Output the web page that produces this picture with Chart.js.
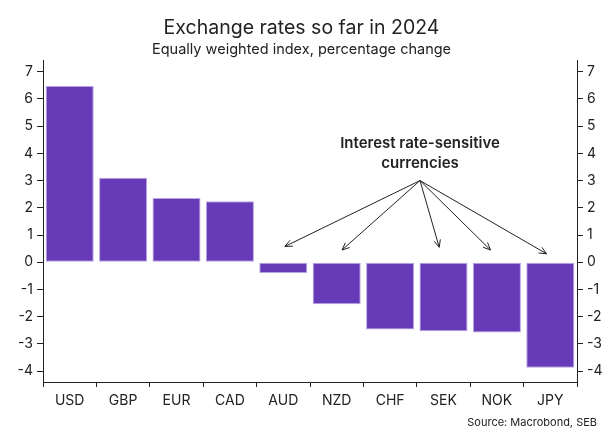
<!DOCTYPE html>
<html>
<head>
<meta charset="utf-8">
<script src="https://cdn.jsdelivr.net/npm/chart.js@4/dist/chart.umd.min.js"></script>
<style>
  html, body { margin: 0; padding: 0; background: #fff; }
  #fx { display: block; }
</style>
</head>
<body>
<canvas id="fx" width="603" height="430"></canvas>
<script>
  // currencies and their change so far this year, %
  const currencies = ['USD', 'GBP', 'EUR', 'CAD', 'AUD', 'NZD', 'CHF', 'SEK', 'NOK', 'JPY'];
  const changePct = [6.47, 3.10, 2.36, 2.24, -0.40, -1.54, -2.47, -2.54, -2.58, -3.88];
  const yTicks = [7, 6, 5, 4, 3, 2, 1, 0, -1, -2, -3, -4];

  // callout: label lines, arrow origin and arrow tips in (category index, value) units
  const calloutLines = ['Interest rate-sensitive', 'currencies'];
  const calloutFrom = [6.56, 3.0];
  const calloutTips = [[4.03, 0.58], [5.10, 0.45], [6.92, 0.55], [7.88, 0.45], [8.93, 0.31]];
  const sourceNote = 'Source: Macrobond, SEB';

  const FONT = 'Inter, "Noto Sans", sans-serif';
  const INK = '#222';

  function arrow(ctx, x0, y0, x1, y1){
    const a = Math.atan2(y1 - y0, x1 - x0), len = 8, spread = 0.42;
    ctx.beginPath();
    ctx.moveTo(x0, y0); ctx.lineTo(x1, y1);
    ctx.moveTo(x1 - len*Math.cos(a - spread), y1 - len*Math.sin(a - spread));
    ctx.lineTo(x1, y1);
    ctx.lineTo(x1 - len*Math.cos(a + spread), y1 - len*Math.sin(a + spread));
    ctx.stroke();
  }

  const callout = {
    id: 'callout',
    afterDatasetsDraw(chart){
      const {ctx, scales:{x, y}} = chart;
      const ox = x.getPixelForValue(calloutFrom[0]), oy = y.getPixelForValue(calloutFrom[1]);
      ctx.save();
      ctx.strokeStyle = INK; ctx.lineWidth = 1;
      calloutTips.forEach(t=> arrow(ctx, ox, oy, x.getPixelForValue(t[0]), y.getPixelForValue(t[1])));
      ctx.fillStyle = INK;
      ctx.font = '600 15px ' + FONT;
      ctx.textAlign = 'center'; ctx.textBaseline = 'middle';
      ctx.fillText(calloutLines[0], ox, oy - 37);
      ctx.fillText(calloutLines[1], ox, oy - 17);
      ctx.restore();
    },
    afterDraw(chart){
      const ctx = chart.ctx;
      ctx.save();
      ctx.fillStyle = INK;
      ctx.font = '11px ' + FONT;
      ctx.textAlign = 'right'; ctx.textBaseline = 'middle';
      ctx.fillText(sourceNote, chart.width - 6, chart.height - 7);
      ctx.restore();
    }
  };

  const yAxis = (pos, width) => ({
    position: pos,
    min: -4.4, max: 7.4,
    afterBuildTicks: s => { s.ticks = yTicks.map(v => ({value: v})); },
    afterFit: s => { s.width = width; },
    border: { display: true, color: INK, width: 1 },
    grid: { drawOnChartArea: false, drawTicks: true, tickLength: 6, color: INK },
    ticks: { color: INK, font: { family: FONT, size: 14 }, padding: 4 }
  });

  new Chart(document.getElementById('fx'), {
    type: 'bar',
    data: {
      labels: currencies,
      datasets: [{
        data: changePct,
        backgroundColor: '#673ab7',
        borderColor: '#b9a5e3',
        borderWidth: 1,
        borderSkipped: false,
        barPercentage: 0.9,
        categoryPercentage: 1
      }]
    },
    options: {
      responsive: false,
      animation: false,
      layout: { padding: 0 },
      plugins: {
        legend: { display: false },
        tooltip: { enabled: false },
        title: {
          display: true, text: 'Exchange rates so far in 2024', color: INK,
          font: { family: FONT, size: 19.5, weight: 'normal' }, padding: { top: 16, bottom: 0 }
        },
        subtitle: {
          display: true, text: 'Equally weighted index, percentage change', color: INK,
          font: { family: FONT, size: 14.5, weight: 'normal' }, padding: { top: 2, bottom: 2 }
        }
      },
      scales: {
        x: {
          offset: true,
          afterFit: s => { s.height = 48; },
          border: { display: true, color: INK, width: 1 },
          grid: { offset: true, drawOnChartArea: false, drawTicks: true, tickLength: 5, color: INK },
          ticks: { color: INK, font: { family: FONT, size: 14 }, padding: 5, maxRotation: 0 }
        },
        y: yAxis('left', 43),
        y2: yAxis('right', 26)
      }
    },
    plugins: [callout]
  });
</script>
</body>
</html>
